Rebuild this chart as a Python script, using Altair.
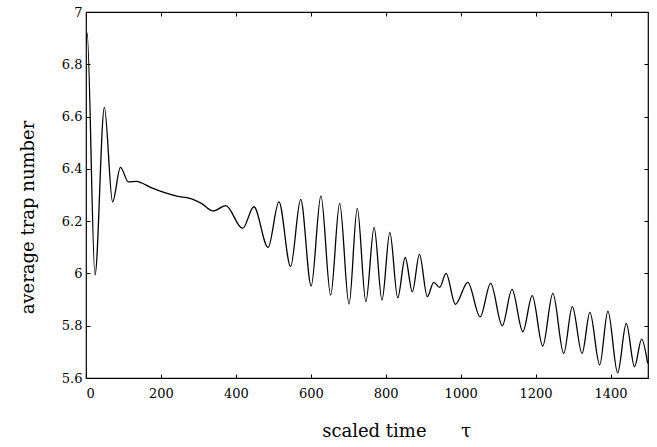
import altair as alt
import pandas as pd

tau = [0, 3, 24, 49, 71, 92, 113, 135, 150, 171,
       202, 242, 282, 308, 339, 373, 418, 448, 486, 515,
       546, 573, 601, 627, 653, 677, 702, 724, 747, 769,
       790, 811, 832, 852, 871, 890, 911, 928, 944, 961,
       986, 1019, 1052, 1080, 1111, 1137, 1166, 1191, 1219, 1246,
       1275, 1298, 1324, 1345, 1371, 1393, 1419, 1442, 1464, 1483,
       1499]
trap = [6.88, 6.92, 5.994, 6.635, 6.274, 6.406, 6.35, 6.352, 6.345, 6.33,
        6.313, 6.296, 6.285, 6.268, 6.239, 6.259, 6.172, 6.255, 6.10, 6.274,
        6.026, 6.283, 5.952, 6.297, 5.917, 6.268, 5.883, 6.249, 5.892, 6.176,
        5.898, 6.157, 5.907, 6.061, 5.93, 6.073, 5.911, 5.966, 5.947, 6.0,
        5.882, 5.966, 5.834, 5.962, 5.80, 5.939, 5.777, 5.915, 5.722, 5.924,
        5.694, 5.873, 5.694, 5.851, 5.65, 5.856, 5.62, 5.809, 5.643, 5.749,
        5.656]
x_ticks = [0, 200, 400, 600, 800, 1000, 1200, 1400]
y_ticks = [5.6, 5.8, 6.0, 6.2, 6.4, 6.6, 6.8, 7.0]

df = pd.DataFrame({"tau": tau, "trap": trap})

FONT = "DejaVu Serif"
xscale = alt.Scale(domain=[0, 1500], nice=False, zero=False)
yscale = alt.Scale(domain=[5.6, 7.0], nice=False, zero=False)

common_axis = dict(grid=False, domain=False, tickSize=4, offset=-4,
                   tickColor="black", tickWidth=1)

main = alt.Chart(df).mark_line(color="black", strokeWidth=1.3,
                               interpolate="monotone", clip=True).encode(
    x=alt.X("tau:Q", scale=xscale, axis=alt.Axis(
        orient="bottom", values=x_ticks, format="d", labelFont=FONT,
        labelFontSize=13, labelColor="black", labelPadding=9,
        title="scaled time\u00a0\u00a0\u00a0\u00a0\u00a0\u00a0τ",
        titleFont=FONT, titleFontSize=18, titleFontWeight="normal",
        titleColor="black", titleX=310, titleY=62,
        titleBaseline="alphabetic", titleAlign="center", **common_axis)),
    y=alt.Y("trap:Q", scale=yscale, axis=alt.Axis(
        orient="left", values=y_ticks, format="~g", labelFont=FONT,
        labelFontSize=13, labelColor="black", labelPadding=4,
        title="average trap number", titleFont=FONT, titleFontSize=18,
        titleFontWeight="normal", titleColor="black", titleAngle=-90,
        titleX=-62, titleY=205, titleAlign="center", titleBaseline="middle",
        **common_axis)),
)

mirror = alt.Chart(df).mark_line(strokeOpacity=0).encode(
    x=alt.X("tau:Q", scale=xscale, axis=alt.Axis(
        orient="top", values=x_ticks, labels=False, title=None, **common_axis)),
    y=alt.Y("trap:Q", scale=yscale, axis=alt.Axis(
        orient="right", values=y_ticks, labels=False, title=None, **common_axis)),
)

chart = alt.layer(main, mirror).resolve_axis(
    x="independent", y="independent"
).properties(
    width=562, height=366,
    autosize=alt.AutoSizeParams(type="none"),
    padding={"left": 86, "top": 12, "right": 9, "bottom": 69},
    background="white",
).configure_view(stroke="black", strokeWidth=1.2)

chart.save("out.html", embed_options={"renderer": "svg", "actions": False})
